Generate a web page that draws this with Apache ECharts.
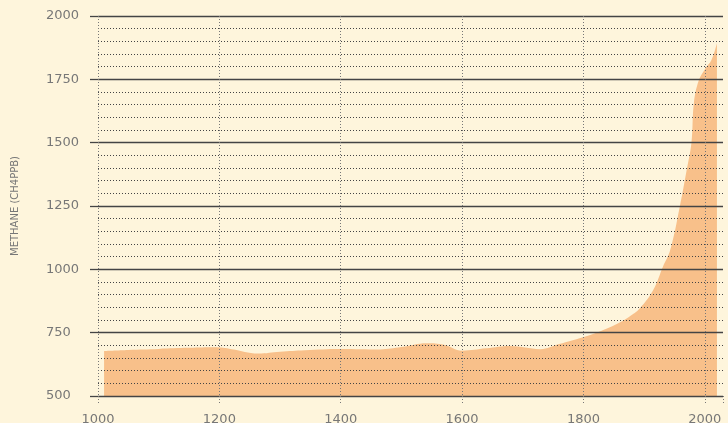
<!DOCTYPE html>
<html>
<head>
<meta charset="utf-8">
<script src="https://cdn.jsdelivr.net/npm/echarts@6/dist/echarts.min.js"></script>
<style>
html,body{margin:0;padding:0;background:#fef5dc;}
#chart{width:728px;height:423px;}
</style>
</head>
<body>
<div id="chart"></div>
<script>
// Years and methane concentration (ppb)
var years   = [1010, 1050, 1100, 1150, 1193, 1220, 1264, 1300, 1341, 1400, 1465, 1500, 1542, 1570, 1600, 1640, 1679, 1729, 1760, 1799, 1830, 1855, 1875, 1893, 1915, 1931, 1943, 1959, 1970, 1978, 1982, 1990, 2001, 2011, 2020];
var methane = [678, 682, 686, 690, 692, 685, 668, 675, 681, 686, 684, 693, 708, 702, 679, 688, 697, 685, 705, 732, 758, 784, 812, 846, 918, 1010, 1076, 1250, 1390, 1500, 1656, 1745, 1793, 1826, 1892];
var yTicks = [500, 750, 1000, 1250, 1500, 1750, 2000];
var xTicks = [1000, 1200, 1400, 1600, 1800, 2000];

var points = years.map(function (y, i) { return [y, methane[i]]; });

var chart = echarts.init(document.getElementById('chart'), null, {renderer: 'canvas'});
chart.setOption({
  backgroundColor: '#fef5dc',
  animation: false,
  grid: {left: 98, right: 5, top: 16, bottom: 27, containLabel: false, outerBoundsMode: 'none'},
  xAxis: {
    type: 'value',
    min: 1000, max: 2030, interval: 200,
    z: 3,
    axisLine: {show: false},
    axisTick: {show: true, length: 9, lineStyle: {color: '#777', type: [1, 2], width: 1}},
    axisLabel: {
      margin: 17, color: '#777', fontFamily: 'DejaVu Sans', fontSize: 13,
      formatter: function (v) { return xTicks.indexOf(v) >= 0 ? String(v) : ''; }
    },
    splitLine: {show: true, showMaxLine: false, lineStyle: {color: '#777', type: [1, 2], width: 1}}
  },
  yAxis: {
    type: 'value',
    min: 500, max: 2000, interval: 250,
    z: 3,
    name: 'METHANE (CH4PPB)',
    nameLocation: 'middle',
    nameGap: 78,
    nameTextStyle: {color: '#777', fontFamily: 'DejaVu Sans', fontSize: 10},
    axisLine: {show: false},
    axisTick: {show: true, length: 8, lineStyle: {color: '#444', width: 1.3}},
    axisLabel: {
      align: 'left', margin: 52, color: '#777', fontFamily: 'DejaVu Sans', fontSize: 13,
      formatter: function (v) { return yTicks.indexOf(v) >= 0 ? String(v) : ''; }
    },
    splitLine: {show: true, lineStyle: {color: '#444', width: 1.3}},
    minorTick: {show: false, splitNumber: 5},
    minorSplitLine: {show: true, lineStyle: {color: '#444', type: [1, 2], width: 1}}
  },
  series: [{
    type: 'line',
    data: points,
    smooth: 0.4,
    showSymbol: false,
    symbol: 'none',
    lineStyle: {width: 0},
    areaStyle: {color: '#f8c08a', opacity: 1, origin: 'start'},
    z: 2
  }]
});
</script>
</body>
</html>
